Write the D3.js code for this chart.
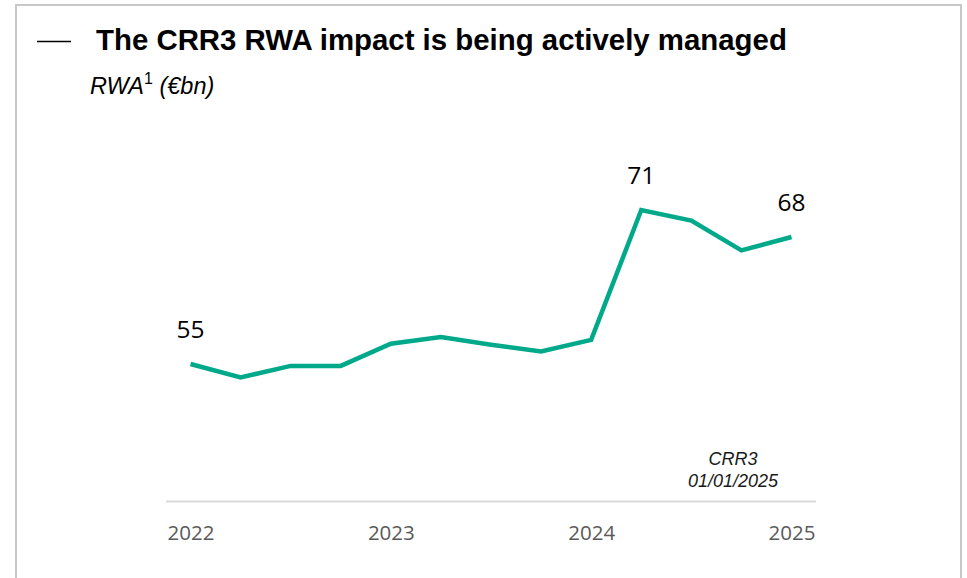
<!DOCTYPE html>
<html>
<head>
<meta charset="utf-8">
<script src="https://cdn.jsdelivr.net/npm/d3@7"></script>
<style>
  html, body { margin: 0; padding: 0; background: #ffffff; }
  svg { display: block; }
</style>
</head>
<body>
<div id="chart"></div>
<script>
// ---- data ----
const quarters = ["Q1 2022","Q2 2022","Q3 2022","Q4 2022","Q1 2023","Q2 2023","Q3 2023","Q4 2023","Q1 2024","Q2 2024","Q3 2024","Q4 2024","Q1 2025"];
const rwaValues = [55.0, 53.6, 54.8, 54.8, 57.1, 57.8, 57.0, 56.3, 57.5, 71.0, 69.9, 66.8, 68.2];
const labelIndices = [0, 9, 12];
const labelTexts = ["55", "71", "68"];
const yearTickIndices = [0, 4, 8, 12];
const yearTickLabels = ["2022", "2023", "2024", "2025"];
const titleText = "The CRR3 RWA impact is being actively managed";
const annotationLines = ["CRR3", "01/01/2025"];

// ---- setup ----
const W = 967, H = 578;
const svg = d3.select("#chart").append("svg").attr("width", W).attr("height", H);

// frame
svg.append("path")
  .attr("d", `M16,${H + 5} L16,5 L961,5 L961,${H + 5}`)
  .attr("fill", "none").attr("stroke", "#c8c8c8").attr("stroke-width", 2);

// title
svg.append("line").attr("x1", 37).attr("x2", 71).attr("y1", 41.5).attr("y2", 41.5)
  .attr("stroke", "#000").attr("stroke-width", 1.3);
svg.append("text").attr("x", 96).attr("y", 50)
  .attr("font-family", "Liberation Sans, Arial, sans-serif").attr("font-weight", "bold")
  .attr("font-size", 29.4).attr("fill", "#000").text(titleText);

const sub = svg.append("text").attr("x", 90).attr("y", 94)
  .attr("font-family", "Liberation Sans, Arial, sans-serif").attr("font-style", "italic")
  .attr("font-size", 23.5).attr("fill", "#000");
sub.append("tspan").text("RWA");
sub.append("tspan").attr("font-size", 16).attr("font-style", "normal").attr("dy", -10).text("1");
sub.append("tspan").attr("dy", 10).text(" (€bn)");

// scales
const x = d3.scalePoint().domain(quarters).range([190.5, 791.5]);
const y = d3.scaleLinear().domain([50, 72]).range([412.1, 200.4]);

// axis
const xAxis = d3.axisBottom(x)
  .tickValues(yearTickIndices.map(i => quarters[i]))
  .tickFormat(d => yearTickLabels[yearTickIndices.indexOf(quarters.indexOf(d))])
  .tickSize(0).tickPadding(26);
const gx = svg.append("g").attr("transform", "translate(0,501.5)").call(xAxis);
gx.select(".domain").remove();
gx.append("line").attr("x1", 166).attr("x2", 816).attr("y1", 0).attr("y2", 0)
  .attr("stroke", "#d9d9d9").attr("stroke-width", 2);
gx.selectAll(".tick text")
  .attr("font-family", "Open Sans, Noto Sans, sans-serif").attr("font-size", 20.5)
  .attr("fill", "#595959").attr("dy", 0).attr("y", 38);

// line
const line = d3.line().x((d, i) => x(quarters[i])).y(d => y(d));
svg.append("path").datum(rwaValues).attr("d", line)
  .attr("fill", "none").attr("stroke", "#00A98A").attr("stroke-width", 4.5)
  .attr("stroke-linejoin", "miter").attr("stroke-linecap", "butt");

// data labels
svg.selectAll(".dl").data(labelIndices).enter().append("text")
  .attr("x", i => x(quarters[i])).attr("y", i => y(rwaValues[i]) - 26)
  .attr("text-anchor", "middle")
  .attr("font-family", "Open Sans, Noto Sans, sans-serif").attr("font-size", 24.5)
  .attr("fill", "#000").text((i, k) => labelTexts[k]);

// annotation
svg.selectAll(".ann").data(annotationLines).enter().append("text")
  .attr("x", 733).attr("y", (d, i) => 465 + i * 22)
  .attr("text-anchor", "middle")
  .attr("font-family", "Liberation Sans, Arial, sans-serif").attr("font-style", "italic")
  .attr("font-size", 18).attr("fill", "#1a1a1a").text(d => d);
</script>
</body>
</html>
